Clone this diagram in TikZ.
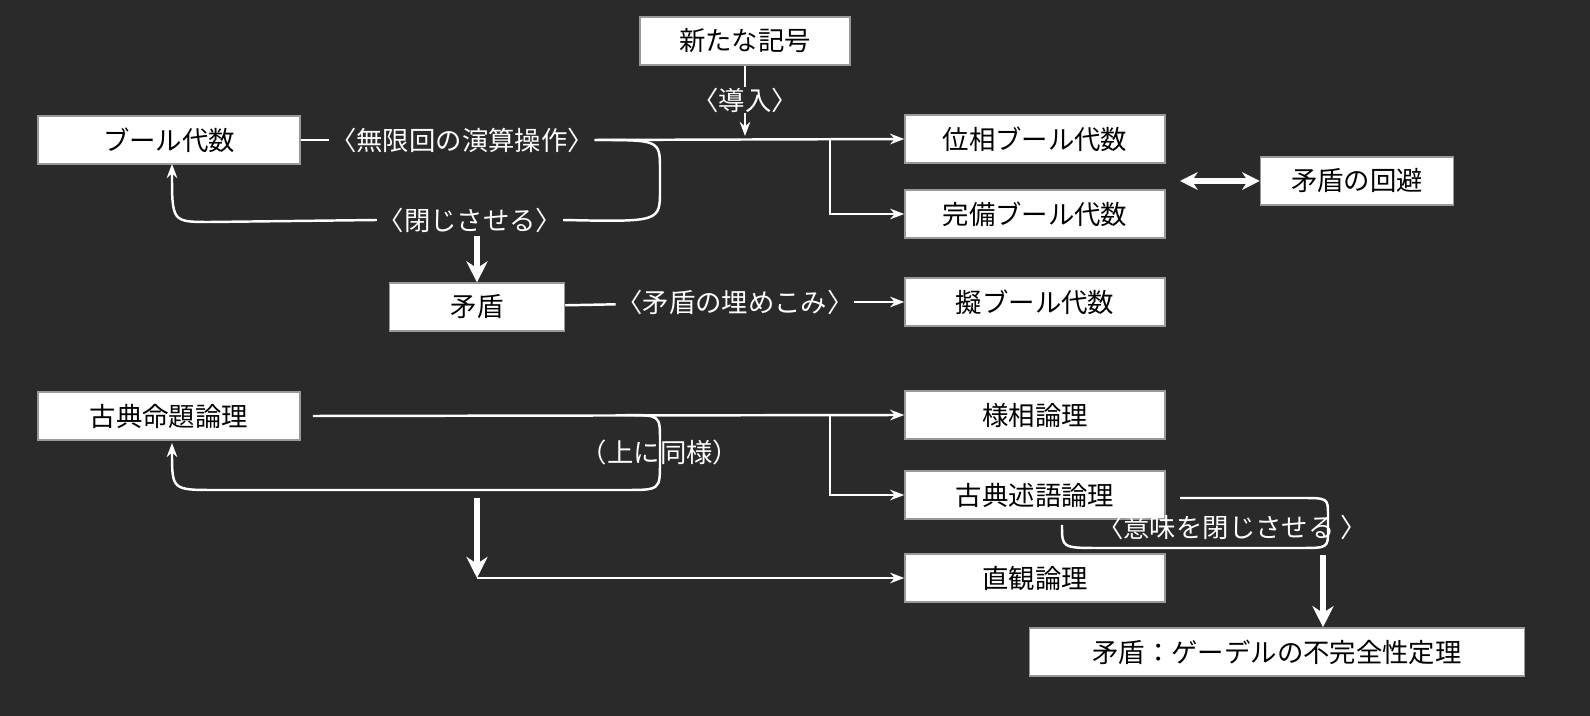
\documentclass[tikz,border=0pt]{standalone}
\usepackage{fontspec}
\setmainfont{Noto Sans CJK JP}
\usetikzlibrary{arrows.meta}
\definecolor{bg}{HTML}{2B2A2A}

\begin{document}
\begin{tikzpicture}[x=0.01cm,y=-0.01cm,
  box/.style={draw=black!40, fill=white, text=black, minimum height=0.44cm, font=\fontsize{7.5}{9}\selectfont},
  lab/.style={text=white, inner sep=0pt, font=\fontsize{7.5}{9}\selectfont},
  wire/.style={white, line width=0.7pt},
  tip/.style={wire, -{Stealth[length=4pt,width=3pt]}},
  fat/.style={white, line width=1.6pt, -{Stealth[length=6pt,width=6pt]}}
]
\fill[bg] (0,0) rectangle (1590,716);

% upper half: Boolean algebra
\node[box, minimum width=2.1cm] (sign) at (745,41) {新たな記号};
\node[box, minimum width=2.62cm] (bool) at (169,140) {ブール代数};
\node[box, minimum width=2.6cm] (topo) at (1035,139) {位相ブール代数};
\node[box, minimum width=1.93cm, minimum height=0.38cm] (avoid) at (1357,181) {矛盾の回避};
\node[box, minimum width=2.6cm] (comp) at (1035,214) {完備ブール代数};
\node[box, minimum width=1.75cm, minimum height=0.38cm] (contra) at (477,307) {矛盾};
\node[box, minimum width=2.6cm] (pseudo) at (1035,302) {擬ブール代数};

\node[lab] (intro) at (745,100) {〈導入〉};
\node[lab] (inf) at (462,140) {〈無限回の演算操作〉};
\node[lab] (close) at (470,220) {〈閉じさせる〉};
\node[lab] (embed) at (735,302) {〈矛盾の埋めこみ〉};

\draw[wire] (sign) -- (intro);
\draw[tip] (intro) -- (745,136);
\draw[wire] (bool) -- (inf);
\draw[tip] (inf.east) -- (topo.west);
\draw[tip] (830,140) |- (comp.west);
\draw[wire] (inf.east) .. controls (660,140) .. (660,170) -- (660,190)
  .. controls (660,222) .. (close.east);
\draw[tip] (close.west) -- (210,222) .. controls (172,222) .. (172,164);
\draw[fat] (477,236) -- (contra.north);
\draw[wire] (contra) -- (embed);
\draw[tip] (embed) -- (pseudo);
\draw[white, line width=1.6pt, {Stealth[length=5pt,width=5pt]}-{Stealth[length=5pt,width=5pt]}] (1180,181) -- (avoid.west);

% lower half: logic
\node[box, minimum width=2.62cm] (prop) at (169,416) {古典命題論理};
\node[box, minimum width=2.6cm] (modal) at (1035,415) {様相論理};
\node[box, minimum width=2.6cm] (pred) at (1035,495) {古典述語論理};
\node[box, minimum width=2.6cm] (intu) at (1035,578) {直観論理};
\node[box, minimum width=4.95cm, minimum height=0.36cm] (godel) at (1277,652) {矛盾：ゲーデルの不完全性定理};

\node[lab] (same) at (660,452) {（上に同様）};
\node[lab] (mean) at (1232,527) {〈意味を閉じさせる 〉};
\coordinate (split) at (477,578);

\draw[tip] (prop.east) ++(12,0) -- (modal.west);
\draw[tip] (830,415) |- (pred.west);
\draw[tip] (625,415) .. controls (660,415) .. (660,440) -- (660,462)
  .. controls (660,490) .. (625,490) -- (215,490) .. controls (172,490) .. (172,443);
\draw[fat] (477,498) -- (split);
\draw[tip] (split) -- (intu.west);
\draw[wire] (1180,498) -- (1300,498) .. controls (1328,498) .. (1328,515) -- (1328,530)
  .. controls (1328,548) .. (1300,548) -- (1100,548) .. controls (1062,548) .. (1062,525);
\draw[fat] (1323,555) -- (godel.north -| 1323,0);
\end{tikzpicture}
\end{document}
